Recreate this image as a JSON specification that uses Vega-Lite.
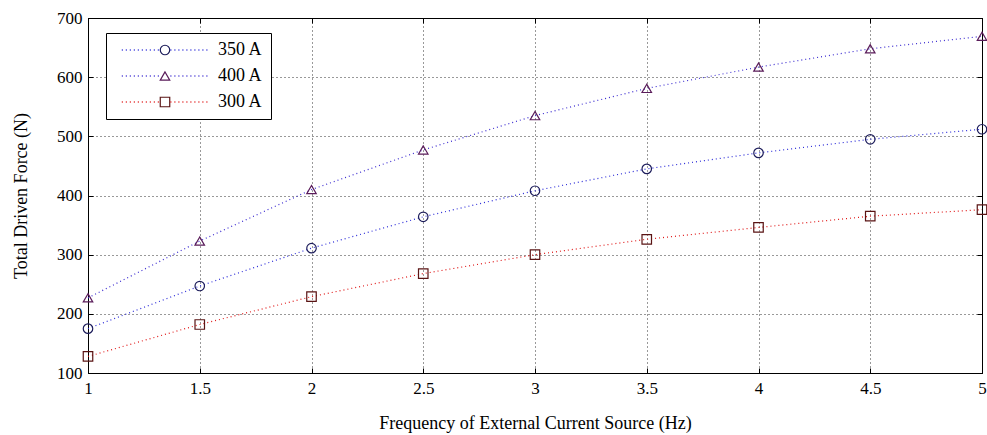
{
  "$schema": "https://vega.github.io/schema/vega-lite/v6.json",
  "width": 894,
  "height": 355,
  "autosize": {"type": "none"},
  "padding": {"left": 88, "top": 18, "right": 5, "bottom": 62},
  "background": "white",
  "config": {
    "font": "Liberation Serif",
    "view": {"stroke": "black", "strokeWidth": 1}
  },
  "data": {
    "values": [
      {"x": 1, "y": 175, "s": "350 A"},
      {"x": 1.5, "y": 247, "s": "350 A"},
      {"x": 2, "y": 311, "s": "350 A"},
      {"x": 2.5, "y": 364, "s": "350 A"},
      {"x": 3, "y": 408, "s": "350 A"},
      {"x": 3.5, "y": 445, "s": "350 A"},
      {"x": 4, "y": 472, "s": "350 A"},
      {"x": 4.5, "y": 495, "s": "350 A"},
      {"x": 5, "y": 512, "s": "350 A"},
      {"x": 1, "y": 227, "s": "400 A"},
      {"x": 1.5, "y": 323, "s": "400 A"},
      {"x": 2, "y": 410, "s": "400 A"},
      {"x": 2.5, "y": 477, "s": "400 A"},
      {"x": 3, "y": 535, "s": "400 A"},
      {"x": 3.5, "y": 581, "s": "400 A"},
      {"x": 4, "y": 617, "s": "400 A"},
      {"x": 4.5, "y": 648, "s": "400 A"},
      {"x": 5, "y": 669, "s": "400 A"},
      {"x": 1, "y": 128, "s": "300 A"},
      {"x": 1.5, "y": 182, "s": "300 A"},
      {"x": 2, "y": 229, "s": "300 A"},
      {"x": 2.5, "y": 268, "s": "300 A"},
      {"x": 3, "y": 300, "s": "300 A"},
      {"x": 3.5, "y": 326, "s": "300 A"},
      {"x": 4, "y": 346, "s": "300 A"},
      {"x": 4.5, "y": 365, "s": "300 A"},
      {"x": 5, "y": 376, "s": "300 A"}
    ]
  },
  "encoding": {
    "x": {"field": "x", "type": "quantitative", "scale": {"domain": [1, 5], "nice": false, "zero": false}},
    "y": {"field": "y", "type": "quantitative", "scale": {"domain": [100, 700], "nice": false, "zero": false}}
  },
  "layer": [
    {
      "mark": {"type": "line", "strokeDash": [1, 3], "strokeWidth": 1.2},
      "encoding": {
        "x": {"field": "x", "type": "quantitative",
          "axis": {"title": "Frequency of External Current Source (Hz)", "values": [1, 1.5, 2, 2.5, 3, 3.5, 4, 4.5, 5],
            "format": "~g", "grid": true, "gridColor": "black", "gridDash": [1, 3], "gridOpacity": 0.8,
            "tickSize": -5, "tickColor": "black", "domainColor": "black", "labelPadding": 12,
            "labelFontSize": 17, "labelColor": "black", "titleFontSize": 18, "titleFontWeight": "normal", "titleColor": "black", "titlePadding": 18,
            "labelFlush": false}},
        "y": {"field": "y", "type": "quantitative",
          "axis": {"title": "Total Driven Force (N)", "values": [100, 200, 300, 400, 500, 600, 700],
            "grid": true, "gridColor": "black", "gridDash": [1, 3], "gridOpacity": 0.8,
            "tickSize": -5, "tickColor": "black", "domainColor": "black", "labelPadding": 11,
            "labelFontSize": 17, "labelColor": "black", "titleFontSize": 18, "titleFontWeight": "normal", "titleColor": "black", "titlePadding": 26,
            "labelFlush": false}},
        "stroke": {"field": "s", "type": "nominal",
          "scale": {"domain": ["350 A", "400 A", "300 A"], "range": ["#2a2ad8", "#3a2ad0", "#e01818"]},
          "legend": {
            "title": null, "orient": "none", "legendX": 18, "legendY": 15, "zindex": 2,
            "padding": 8, "cornerRadius": 0,
            "labelFontSize": 18, "labelColor": "black", "symbolType": "M-9.6,0H-1.2M1.2,0H9.6", "symbolSize": 81, "symbolStrokeWidth": 1.3,
            "symbolOpacity": 1, "symbolDash": [1, 3], "symbolOffset": 42, "labelOffset": 44, "rowPadding": 8}}
      }
    },
    {
      "mark": {"type": "point", "filled": false, "strokeWidth": 1.2, "size": 90, "opacity": 1},
      "encoding": {
        "x": {"field": "x", "type": "quantitative",
          "axis": {"orient": "top", "title": null, "labels": false, "grid": false, "values": [1, 1.5, 2, 2.5, 3, 3.5, 4, 4.5, 5],
            "tickSize": -5, "tickColor": "black", "domainColor": "black"}},
        "y": {"field": "y", "type": "quantitative",
          "axis": {"orient": "right", "title": null, "labels": false, "grid": false, "values": [100, 200, 300, 400, 500, 600, 700],
            "tickSize": -5, "tickColor": "black", "domainColor": "black"}},
        "shape": {"field": "s", "type": "nominal", "sort": null,
          "scale": {"range": ["circle", "triangle-up", "square"]},
          "legend": {"title": null, "orient": "none", "legendX": 18, "legendY": 15, "zindex": 1,
            "fillColor": "white", "strokeColor": "black", "cornerRadius": 0,
            "padding": 8, "labelFontSize": 18, "labelColor": "transparent", "symbolSize": 90, "symbolStrokeWidth": 1.2,
            "symbolOffset": 42, "labelOffset": 44, "rowPadding": 8}},
        "color": {"field": "s", "type": "nominal", "sort": null,
          "scale": {"range": ["#1c1c5a", "#5a1c5a", "#5a1414"]},
          "legend": {"title": null, "orient": "none", "legendX": 18, "legendY": 15, "zindex": 1,
            "fillColor": "white", "strokeColor": "black", "cornerRadius": 0,
            "padding": 8, "labelFontSize": 18, "labelColor": "transparent", "symbolSize": 90, "symbolStrokeWidth": 1.2,
            "symbolOffset": 42, "labelOffset": 44, "rowPadding": 8}}
      }
    }
  ],
  "resolve": {"axis": {"x": "independent", "y": "independent"}}
}
